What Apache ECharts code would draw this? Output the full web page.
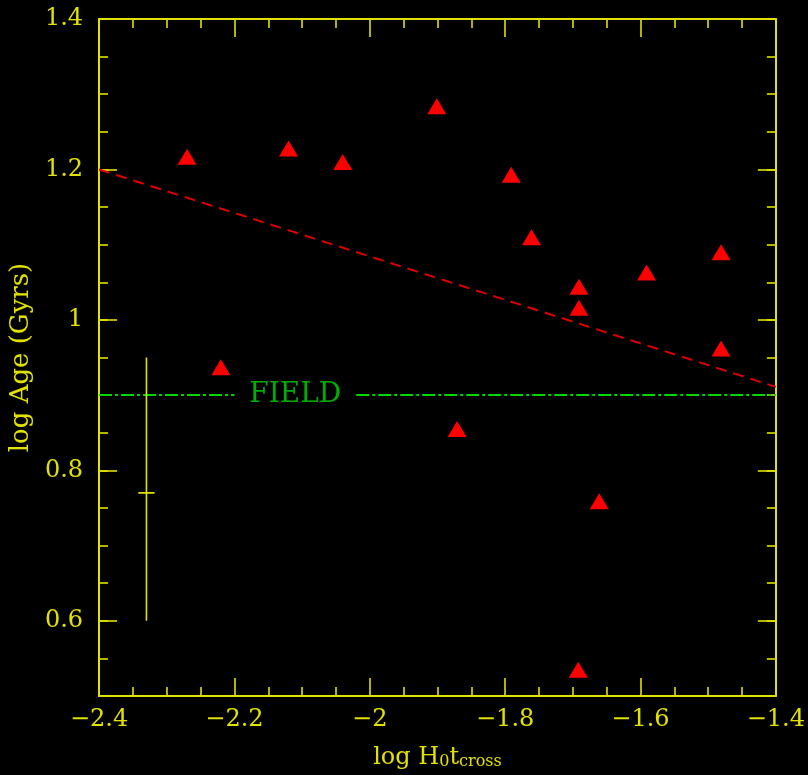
<!DOCTYPE html>
<html>
<head>
<meta charset="utf-8">
<script src="https://cdn.jsdelivr.net/npm/echarts@6/dist/echarts.min.js"></script>
<style>
html,body{margin:0;padding:0;background:#000;}
#chart{width:808px;height:775px;}
</style>
</head>
<body>
<div id="chart"></div>
<script>
// Data
const groupX = [-2.270, -2.120, -2.040, -1.901, -1.791, -1.761, -1.691, -1.691, -1.591, -1.481, -1.481, -2.220, -1.871, -1.661, -1.692];
const groupY = [1.217, 1.228, 1.210, 1.284, 1.193, 1.110, 1.044, 1.016, 1.063, 1.090, 0.962, 0.937, 0.855, 0.759, 0.535];

const fitX = [-2.4, -1.4];
const fitY = [1.2, 0.911];

const fieldY = 0.9;
const fieldSegLeft = [-2.4, -2.2];
const fieldSegRight = [-2.02, -1.4];
const fieldLabelX = -2.11;
const fieldLabel = 'FIELD';

const errX = -2.33;
const errY = 0.77;
const errLow = 0.6;
const errHigh = 0.95;
const errCapHalf = 0.012;

const xTicks = [-2.4, -2.2, -2.0, -1.8, -1.6, -1.4];
const yTicks = [0.6, 0.8, 1.0, 1.2, 1.4];

const YEL = '#e2e200';
const GRN = '#00d800';
const FONT = 'DejaVu Serif';

const chart = echarts.init(document.getElementById('chart'), null, {renderer: 'canvas'});

const lineStyleAx = {color: YEL, width: 2};
const tickStyle = {color: YEL, width: 1.6};
const fmt = v => String(+(+v).toFixed(2)).replace('-', '\u2212');

function xAxisDef(pos, labels) {
  return {
    type: 'value', position: pos, min: xTicks[0], max: xTicks[xTicks.length - 1], interval: 0.2,
    axisLine: {show: true, onZero: false, lineStyle: lineStyleAx},
    axisTick: {show: true, inside: true, length: 18, lineStyle: tickStyle},
    minorTick: {show: true, splitNumber: 4, length: 9, lineStyle: tickStyle},
    axisLabel: labels ? {show: true, color: YEL, fontFamily: FONT, fontSize: 24, margin: 12, formatter: fmt} : {show: false},
    splitLine: {show: false}, minorSplitLine: {show: false}
  };
}

function yMajor(pos, labels) {
  return {
    type: 'value', position: pos, min: 0.5, max: 1.4,
    axisLine: {show: true, onZero: false, lineStyle: lineStyleAx},
    axisTick: {show: true, inside: true, length: 18, customValues: yTicks, lineStyle: tickStyle},
    axisLabel: labels ? {show: true, customValues: yTicks, color: YEL, fontFamily: FONT, fontSize: 24, margin: 16, formatter: fmt} : {show: false},
    splitLine: {show: false}
  };
}
function yMinor(pos) {
  return {
    type: 'value', position: pos, min: 0.5, max: 1.4, interval: 0.05,
    axisLine: {show: false},
    axisTick: {show: true, inside: true, length: 9, lineStyle: tickStyle},
    axisLabel: {show: false},
    splitLine: {show: false}
  };
}

const xBottom = xAxisDef('bottom', true);
xBottom.name = '{m|log H}{s|0}{m|t}{s|cross}';
xBottom.nameLocation = 'middle';
xBottom.nameGap = 40;
xBottom.nameTextStyle = {
  rich: {
    m: {color: YEL, fontFamily: FONT, fontSize: 24, lineHeight: 34, verticalAlign: 'bottom'},
    s: {color: YEL, fontFamily: FONT, fontSize: 16, lineHeight: 16, verticalAlign: 'bottom'}
  }
};

const yLeft = yMajor('left', true);
yLeft.name = 'log Age (Gyrs)';
yLeft.nameLocation = 'middle';
yLeft.nameRotate = 90;
yLeft.nameGap = 46;
yLeft.nameTextStyle = {color: YEL, fontFamily: FONT, fontSize: 26};

const option = {
  backgroundColor: '#000',
  animation: false,
  grid: {left: 97, top: 19, right: 32, bottom: 78, containLabel: false},
  xAxis: [xBottom, xAxisDef('top', false)],
  yAxis: [yLeft, yMinor('left'), yMajor('right', false), yMinor('right')],
  series: [
    {
      type: 'line', xAxisIndex: 0, yAxisIndex: 0, symbol: 'none',
      data: fitX.map((x, i) => [x, fitY[i]]),
      lineStyle: {color: '#dc0000', width: 2, type: [11, 7]}, z: 3
    },
    {
      type: 'line', xAxisIndex: 0, yAxisIndex: 0, symbol: 'none',
      data: fieldSegLeft.map(x => [x, fieldY]),
      lineStyle: {color: GRN, width: 2, type: [13, 3, 3, 3]}, z: 3
    },
    {
      type: 'line', xAxisIndex: 0, yAxisIndex: 0, symbol: 'none',
      data: fieldSegRight.map(x => [x, fieldY]),
      lineStyle: {color: GRN, width: 2, type: [13, 3, 3, 3]}, z: 3
    },
    {
      type: 'scatter', xAxisIndex: 0, yAxisIndex: 0, symbolSize: 0,
      data: [[fieldLabelX, fieldY]],
      label: {show: true, position: 'inside', formatter: fieldLabel, color: GRN, fontFamily: FONT, fontSize: 28},
      silent: true, z: 4
    },
    {
      type: 'line', xAxisIndex: 0, yAxisIndex: 0, symbol: 'none',
      data: [[errX, errLow], [errX, errHigh]],
      lineStyle: {color: YEL, width: 1.6}, z: 3
    },
    {
      type: 'line', xAxisIndex: 0, yAxisIndex: 0, symbol: 'none',
      data: [[errX - errCapHalf, errY], [errX + errCapHalf, errY]],
      lineStyle: {color: YEL, width: 1.6}, z: 3
    },
    {
      type: 'scatter', xAxisIndex: 0, yAxisIndex: 0,
      symbol: 'triangle', symbolSize: [19, 16],
      data: groupX.map((x, i) => [x, groupY[i]]),
      itemStyle: {color: '#ff0000', opacity: 1}, z: 5
    }
  ]
};
chart.setOption(option);
</script>
</body>
</html>
